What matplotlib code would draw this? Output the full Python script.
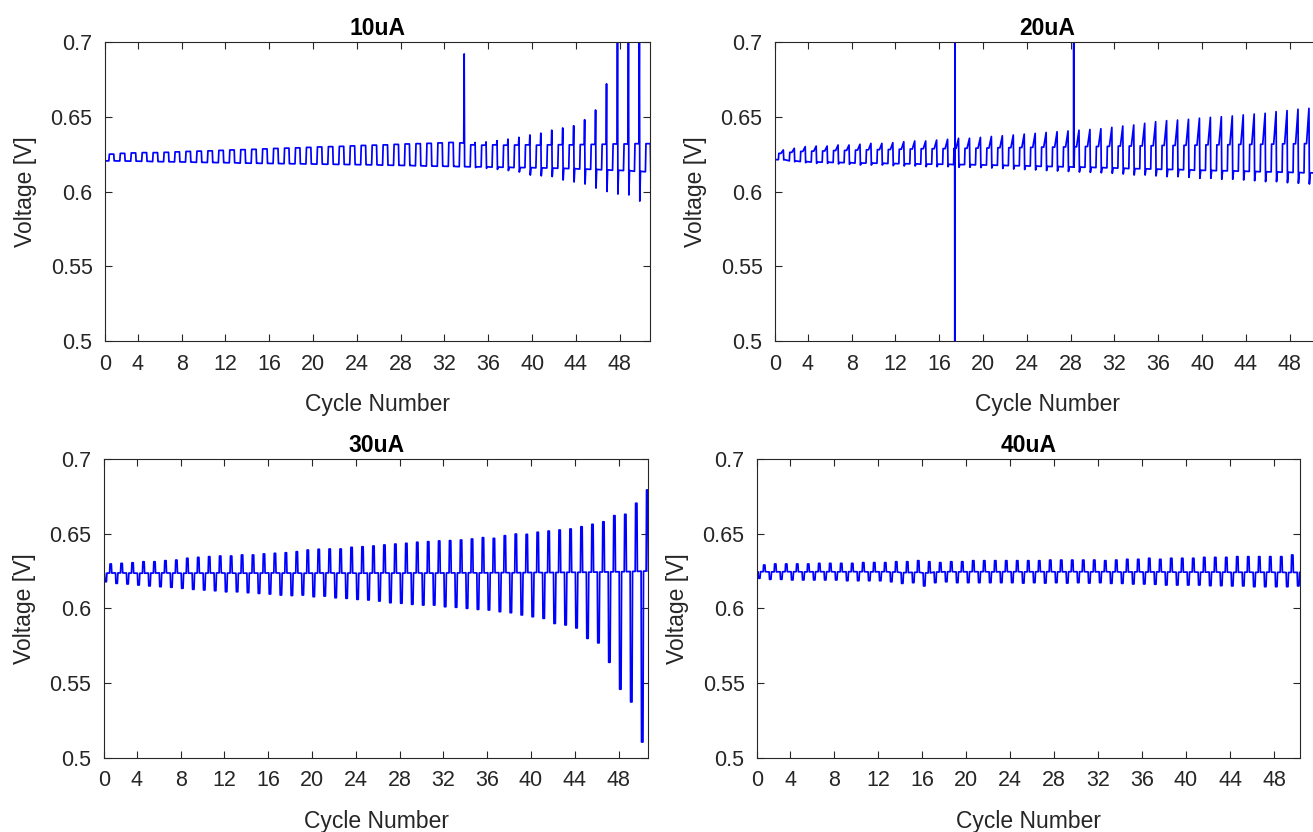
import numpy as np
import matplotlib
matplotlib.use("Agg")
import matplotlib.pyplot as plt

plt.rcParams['font.family'] = ['Liberation Sans', 'DejaVu Sans']

# cycle numbers 1..50
cycles = np.arange(1, 51)

# ---- 10uA ----
peak10 = [0.6250, 0.6255, 0.6258, 0.6260, 0.6260, 0.6262, 0.6265, 0.6268, 0.6270, 0.6272,
          0.6275, 0.6278, 0.6280, 0.6282, 0.6285, 0.6288, 0.6290, 0.6292, 0.6295, 0.6298,
          0.6300, 0.6302, 0.6305, 0.6308, 0.6310, 0.6312, 0.6315, 0.6318, 0.6320, 0.6322,
          0.6325, 0.6328, 0.6920, 0.6328, 0.6332, 0.6340, 0.6350, 0.6362, 0.6378, 0.6390,
          0.6410, 0.6425, 0.6440, 0.6480, 0.6545, 0.6720, 0.7200, 0.7200, 0.7200, 0.6320]
mid10 = [0.6250, 0.6255, 0.6258, 0.6260, 0.6260, 0.6262, 0.6265, 0.6268, 0.6270, 0.6272,
         0.6275, 0.6278, 0.6280, 0.6282, 0.6285, 0.6288, 0.6290, 0.6292, 0.6295, 0.6298,
         0.6300, 0.6302, 0.6305, 0.6308, 0.6310, 0.6312, 0.6315, 0.6318, 0.6320, 0.6322,
         0.6325, 0.6328, 0.6325, 0.6312, 0.6310, 0.6312, 0.6310, 0.6311, 0.6312, 0.6310,
         0.6312, 0.6313, 0.6312, 0.6314, 0.6315, 0.6316, 0.6318, 0.6318, 0.6320, 0.6320]
trough10 = [0.6205, 0.6204, 0.6203, 0.6202, 0.6200, 0.6199, 0.6198, 0.6197, 0.6195, 0.6194,
            0.6193, 0.6192, 0.6190, 0.6189, 0.6188, 0.6187, 0.6186, 0.6185, 0.6184, 0.6183,
            0.6182, 0.6181, 0.6180, 0.6179, 0.6178, 0.6176, 0.6175, 0.6174, 0.6172, 0.6170,
            0.6169, 0.6168, 0.6166, 0.6160, 0.6155, 0.6148, 0.6140, 0.6130, 0.6110, 0.6105,
            0.6100, 0.6077, 0.6064, 0.6050, 0.6023, 0.6000, 0.5983, 0.5977, 0.5936, 0.6132]
base10 = [0.6205, 0.6204, 0.6203, 0.6202, 0.6200, 0.6199, 0.6198, 0.6197, 0.6195, 0.6194,
          0.6193, 0.6192, 0.6190, 0.6189, 0.6188, 0.6187, 0.6186, 0.6185, 0.6184, 0.6183,
          0.6182, 0.6181, 0.6180, 0.6179, 0.6178, 0.6176, 0.6175, 0.6174, 0.6172, 0.6170,
          0.6169, 0.6168, 0.6166, 0.6165, 0.6165, 0.6163, 0.6162, 0.6160, 0.6160, 0.6158,
          0.6157, 0.6155, 0.6153, 0.6150, 0.6148, 0.6145, 0.6142, 0.6140, 0.6135, 0.6132]

# ---- 20uA ----
peak20 = [0.6278, 0.6289, 0.6300, 0.6304, 0.6304, 0.6311, 0.6311, 0.6316, 0.6322, 0.6322,
          0.6327, 0.6333, 0.6338, 0.6338, 0.6344, 0.6349, 0.6356, 0.6356, 0.6362, 0.6368,
          0.6373, 0.6378, 0.6384, 0.6389, 0.6395, 0.6400, 0.6405, 0.6410, 0.6415, 0.6420,
          0.6429, 0.6438, 0.6445, 0.6456, 0.6467, 0.6474, 0.6478, 0.6483, 0.6490, 0.6496,
          0.6500, 0.6505, 0.6512, 0.6518, 0.6523, 0.6534, 0.6541, 0.6550, 0.6556, 0.6560]
mid20 = [0.6255, 0.6262, 0.6268, 0.6270, 0.6271, 0.6274, 0.6275, 0.6277, 0.6279, 0.6280,
         0.6281, 0.6283, 0.6284, 0.6286, 0.6286, 0.6287, 0.6289, 0.6289, 0.6290, 0.6291,
         0.6293, 0.6293, 0.6294, 0.6295, 0.6297, 0.6297, 0.6298, 0.6299, 0.6301, 0.6301,
         0.6302, 0.6304, 0.6304, 0.6305, 0.6306, 0.6308, 0.6308, 0.6309, 0.6310, 0.6312,
         0.6312, 0.6313, 0.6315, 0.6315, 0.6316, 0.6317, 0.6319, 0.6319, 0.6320, 0.6321]
trough20 = [0.6211, 0.6199, 0.6193, 0.6188, 0.6188, 0.6184, 0.6182, 0.6177, 0.6177, 0.6177,
            0.6173, 0.6171, 0.6171, 0.6166, 0.6166, 0.6166, 0.6162, 0.6162, 0.6160, 0.6157,
            0.6154, 0.6150, 0.6147, 0.6144, 0.6140, 0.6137, 0.6134, 0.6130, 0.6128, 0.6125,
            0.6122, 0.6117, 0.6110, 0.6110, 0.6104, 0.6099, 0.6099, 0.6095, 0.6088, 0.6088,
            0.6082, 0.6082, 0.6077, 0.6072, 0.6066, 0.6066, 0.6059, 0.6055, 0.6050, 0.6048]
base20 = [0.6213, 0.6205, 0.6200, 0.6197, 0.6196, 0.6194, 0.6193, 0.6190, 0.6190, 0.6189,
          0.6187, 0.6186, 0.6185, 0.6183, 0.6183, 0.6182, 0.6180, 0.6180, 0.6178, 0.6177,
          0.6175, 0.6173, 0.6172, 0.6170, 0.6168, 0.6167, 0.6165, 0.6163, 0.6162, 0.6160,
          0.6158, 0.6156, 0.6153, 0.6152, 0.6150, 0.6148, 0.6147, 0.6145, 0.6142, 0.6141,
          0.6139, 0.6138, 0.6136, 0.6134, 0.6132, 0.6131, 0.6129, 0.6127, 0.6125, 0.6124]
# single-sample glitches in the 20uA record
glitch20_t = [17.41, 17.42, 17.44, 17.45, 28.27, 28.28, 28.29]
glitch20_v = [0.6289, 0.45, 0.75, 0.6289, 0.6163, 0.75, 0.6163]

# ---- 30uA ----
peak30 = [0.6298, 0.6302, 0.6306, 0.6313, 0.6313, 0.6320, 0.6324, 0.6336, 0.6342, 0.6347,
          0.6351, 0.6351, 0.6358, 0.6358, 0.6365, 0.6369, 0.6373, 0.6380, 0.6391, 0.6396,
          0.6398, 0.6398, 0.6409, 0.6413, 0.6418, 0.6425, 0.6431, 0.6436, 0.6443, 0.6447,
          0.6452, 0.6454, 0.6458, 0.6465, 0.6474, 0.6469, 0.6487, 0.6498, 0.6496, 0.6510,
          0.6518, 0.6525, 0.6532, 0.6547, 0.6563, 0.6580, 0.6621, 0.6630, 0.6704, 0.6793]
trough30 = [0.6179, 0.6168, 0.6164, 0.6157, 0.6151, 0.6146, 0.6142, 0.6135, 0.6128, 0.6124,
            0.6119, 0.6112, 0.6112, 0.6106, 0.6101, 0.6097, 0.6090, 0.6087, 0.6090, 0.6079,
            0.6083, 0.6072, 0.6068, 0.6061, 0.6057, 0.6050, 0.6039, 0.6035, 0.6028, 0.6023,
            0.6023, 0.6012, 0.6008, 0.6001, 0.5994, 0.5990, 0.5979, 0.5972, 0.5957, 0.5945,
            0.5934, 0.5900, 0.5890, 0.5870, 0.5800, 0.5770, 0.5640, 0.5460, 0.5375, 0.5107]
mid30 = [0.6237, 0.6238, 0.6237, 0.6236, 0.6237, 0.6238, 0.6237, 0.6236, 0.6237, 0.6237,
         0.6238, 0.6237, 0.6236, 0.6237, 0.6237, 0.6238, 0.6237, 0.6237, 0.6236, 0.6237,
         0.6238, 0.6237, 0.6237, 0.6236, 0.6237, 0.6238, 0.6237, 0.6237, 0.6238, 0.6237,
         0.6237, 0.6238, 0.6238, 0.6239, 0.6238, 0.6239, 0.6240, 0.6239, 0.6240, 0.6241,
         0.6240, 0.6241, 0.6242, 0.6242, 0.6243, 0.6244, 0.6245, 0.6246, 0.6248, 0.6250]

# ---- 40uA ----
peak40 = [0.6291, 0.6298, 0.6298, 0.6298, 0.6298, 0.6302, 0.6302, 0.6302, 0.6302, 0.6307,
          0.6307, 0.6307, 0.6313, 0.6313, 0.6320, 0.6313, 0.6307, 0.6313, 0.6313, 0.6320,
          0.6320, 0.6320, 0.6320, 0.6320, 0.6320, 0.6320, 0.6324, 0.6324, 0.6324, 0.6324,
          0.6324, 0.6320, 0.6324, 0.6329, 0.6329, 0.6336, 0.6329, 0.6336, 0.6336, 0.6336,
          0.6342, 0.6342, 0.6342, 0.6347, 0.6347, 0.6347, 0.6347, 0.6347, 0.6358, 0.6351]
trough40 = [0.6202, 0.6195, 0.6195, 0.6191, 0.6191, 0.6191, 0.6191, 0.6191, 0.6186, 0.6186,
            0.6186, 0.6186, 0.6179, 0.6168, 0.6173, 0.6151, 0.6173, 0.6179, 0.6173, 0.6173,
            0.6173, 0.6173, 0.6173, 0.6173, 0.6170, 0.6173, 0.6170, 0.6173, 0.6170, 0.6173,
            0.6170, 0.6173, 0.6168, 0.6168, 0.6164, 0.6164, 0.6162, 0.6157, 0.6157, 0.6157,
            0.6157, 0.6153, 0.6153, 0.6151, 0.6151, 0.6146, 0.6146, 0.6146, 0.6146, 0.6151]
mid40 = [0.6246, 0.6245, 0.6246, 0.6246, 0.6245, 0.6246, 0.6246, 0.6245, 0.6246, 0.6246,
         0.6245, 0.6246, 0.6244, 0.6240, 0.6242, 0.6238, 0.6244, 0.6246, 0.6245, 0.6246,
         0.6246, 0.6245, 0.6246, 0.6246, 0.6245, 0.6246, 0.6246, 0.6245, 0.6246, 0.6246,
         0.6245, 0.6246, 0.6245, 0.6244, 0.6245, 0.6244, 0.6245, 0.6244, 0.6243, 0.6244,
         0.6243, 0.6244, 0.6243, 0.6242, 0.6243, 0.6242, 0.6243, 0.6242, 0.6241, 0.6242]

xtick_labels = ['0', '4', '8', '12', '16', '20', '24', '28', '32', '36', '40', '44', '48']
ytick_vals = [0.5, 0.55, 0.6, 0.65, 0.7]
ytick_labels = ['0.5', '0.55', '0.6', '0.65', '0.7']

# waveform shape inside one cycle, times relative to the peak sample
shape_a = [(-0.45, 'base'), (-0.40, 'mid'), (-0.04, 'mid'), (0.0, 'peak'),
           (0.04, 'trough'), (0.10, 'base')]
shape_b = [(-0.45, 'base'), (-0.41, 'mid'), (-0.22, 'mid'), (0.0, 'peak'),
           (0.04, 'trough'), (0.12, 'base')]
shape_c = [(-0.50, 'mid'), (-0.46, 'trough'), (-0.33, 'trough'), (-0.28, 'mid'),
           (-0.04, 'mid'), (0.0, 'peak'), (0.12, 'peak'), (0.16, 'mid')]


def make_trace(phase, peak, mid, trough, base, shape, extra_t=(), extra_v=()):
    t = [cycles[0]]
    v = [base[0] if shape[0][1] == 'base' else mid[0]]
    for i, n in enumerate(cycles):
        lv = {'peak': peak[i], 'mid': mid[i], 'trough': trough[i], 'base': base[i]}
        for dt, key in shape:
            t.append(n + phase + dt)
            v.append(lv[key])
    t = np.array(t + list(extra_t))
    v = np.array(v + list(extra_v))
    order = np.argsort(t, kind='stable')
    return t[order], v[order]


panels = [
    ('10uA', make_trace(0.80, peak10, mid10, trough10, base10, shape_a),
     [105, 341, 545, 299], 50.77),
    ('20uA', make_trace(0.76, peak20, mid20, trough20, base20, shape_b,
                        glitch20_t, glitch20_v),
     [775, 341, 545, 299], 50.77),
    ('30uA', make_trace(0.55, peak30, mid30, trough30, mid30, shape_c),
     [104, 758, 544, 299], 50.68),
    ('40uA', make_trace(0.60, peak40, mid40, trough40, mid40, shape_c),
     [757, 758, 543, 299], 50.36),
]

W, H = 1313, 832
fig = plt.figure(figsize=(W / 100, H / 100), dpi=100)

for title, (t, v), (x0, yb, w, h), xmax in panels:
    ax = fig.add_axes([x0 / W, (H - yb) / H, w / W, h / H])
    ax.plot(t, v, color='b', lw=1.25)
    ax.set_xlim(cycles[0], xmax)
    ax.set_ylim(0.5, 0.7)
    ax.set_xticks([cycles[0]] + list(range(4, 49, 4)))
    ax.set_xticklabels(xtick_labels)
    ax.set_yticks(ytick_vals)
    ax.set_yticklabels(ytick_labels)
    ax.tick_params(direction='in', top=True, right=True, length=5, width=0.8,
                   labelsize=15.5, colors='0.15')
    ax.tick_params(axis='x', pad=9)
    ax.tick_params(axis='y', pad=9)
    for s in ax.spines.values():
        s.set_linewidth(0.8)
        s.set_color('0.15')
    ax.set_title(title, fontsize=16.5, fontweight='bold', pad=5)
    ax.set_xlabel('Cycle Number', fontsize=16.5, color='0.15', labelpad=13)
    ax.set_ylabel('Voltage [V]', fontsize=16.5, color='0.15', labelpad=10)

fig.savefig('out.png', dpi=100)
